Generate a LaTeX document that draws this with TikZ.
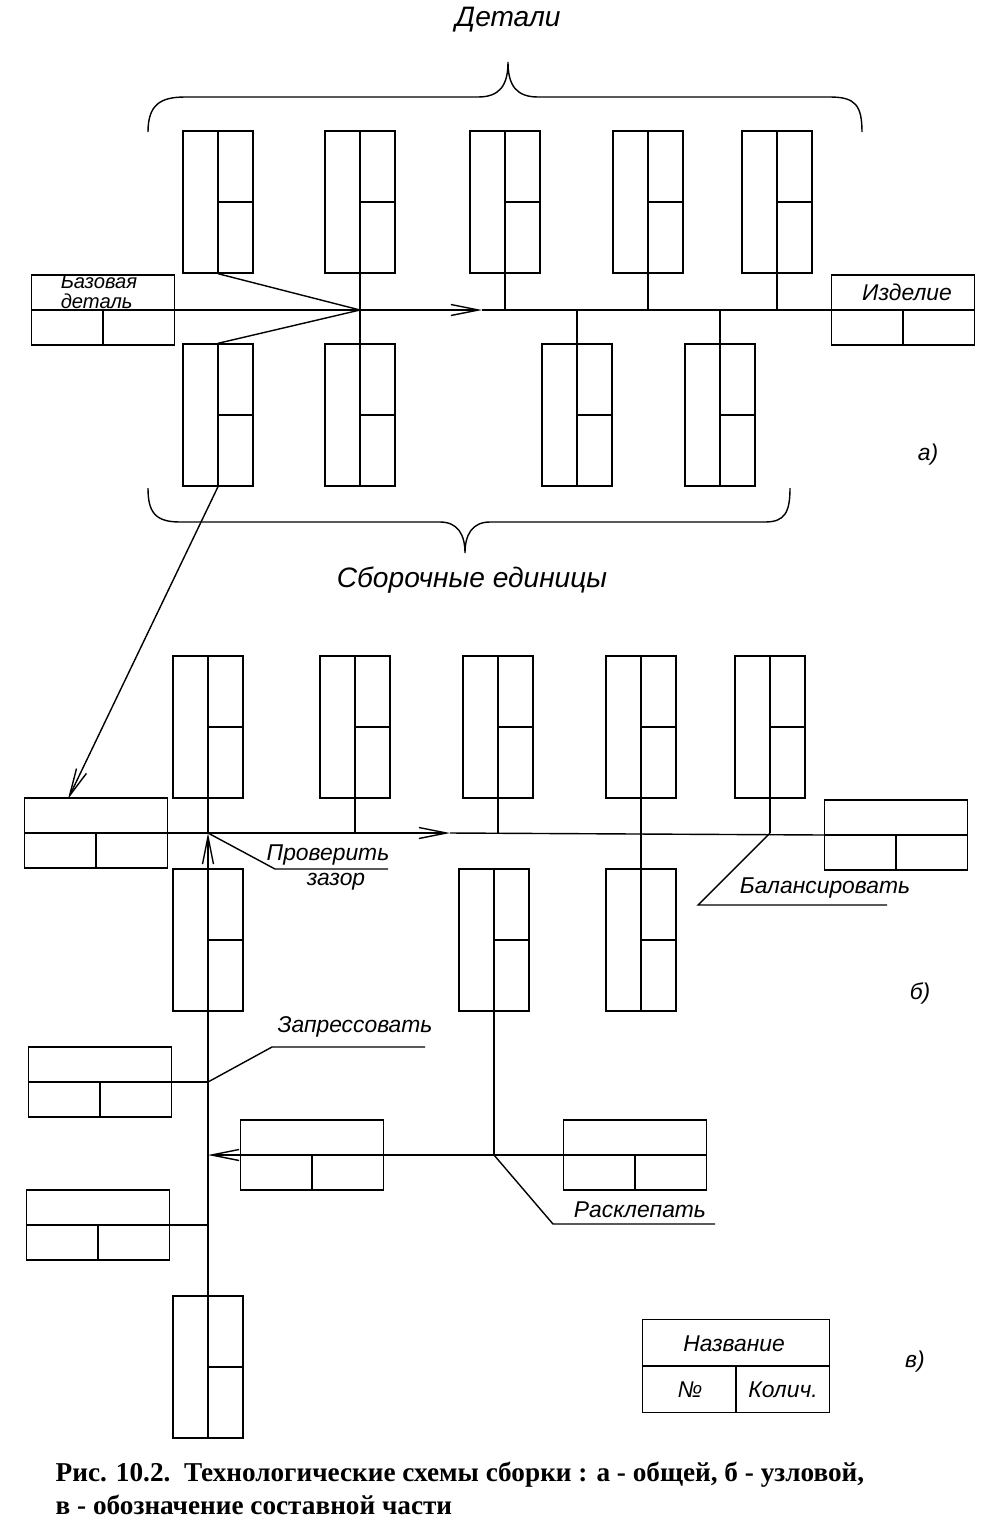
\documentclass[tikz,border=0pt]{standalone}
\usepackage{fontspec}
\setmainfont{Liberation Serif}
\newfontfamily\lblfont{Liberation Sans}
\usetikzlibrary{arrows.meta}

\tikzset{
  vbox/.style={draw, minimum width=1.4cm, minimum height=2.84cm, inner sep=0pt,
    path picture={
      \draw (path picture bounding box.north) -- (path picture bounding box.south);
      \draw (path picture bounding box.center) -- (path picture bounding box.east);}},
  hbox/.style={draw, minimum width=2.86cm, minimum height=1.4cm, inner sep=0pt,
    path picture={
      \draw (path picture bounding box.west) -- (path picture bounding box.east);
      \draw (path picture bounding box.center) -- (path picture bounding box.south);}},
  lbl/.style={font=\lblfont\itshape\fontsize{13}{13}\selectfont, inner sep=0pt},
  big/.style={font=\lblfont\itshape\fontsize{16}{16}\selectfont, inner sep=0pt},
  tip/.style={-{Straight Barb[length=5.5mm, width=2.2mm]}}
}

\begin{document}
\begin{tikzpicture}[x=0.02cm, y=-0.02cm, line width=0.8pt]
\useasboundingbox (0,0) rectangle (990,1529);

% а) общая схема
\node[big] (det) at (508,20) {Детали};
\draw (148,132) .. controls (148,105) and (160,97) .. (185,97) -- (478,97)
  .. controls (500,97) and (508,85) .. (508,62)
  .. controls (508,85) and (516,97) .. (538,97) -- (830,97)
  .. controls (855,97) and (862,105) .. (862,132);
\node[vbox] (t1) at (218,202) {};
\node[vbox] (t2) at (360,202) {};
\node[vbox] (t3) at (505,202) {};
\node[vbox] (t4) at (648,202) {};
\node[vbox] (t5) at (777,202) {};
\node[vbox] (b1) at (218,415) {};
\node[vbox] (b2) at (360,415) {};
\node[vbox] (b3) at (577,415) {};
\node[vbox] (b4) at (720,415) {};
\node[hbox] (base) at (103,310) {};
\node[lbl, align=left, font=\lblfont\itshape\fontsize{11.5}{11.5}\selectfont] (baset) at (99,292) {Базовая\\деталь};
\node[hbox] (izd) at (903,310) {};
\node[lbl] (izdt) at (907,292) {Изделие};
\coordinate (hub) at (360,310);
\coordinate (arA) at (482,310);
\draw[tip] (base.east) -- (arA);
\draw (arA) -- (izd.west);
\draw (t1.south) -- (hub) -- (b1.north);
\draw (t2.south) -- (b2.north);
\draw (t3.south) -- (t3.south |- hub);
\draw (t4.south) -- (t4.south |- hub);
\draw (t5.south) -- (t5.south |- hub);
\draw (b3.north) -- (b3.north |- hub);
\draw (b4.north) -- (b4.north |- hub);
\draw (148,488) .. controls (148,512) and (155,522) .. (180,522) -- (440,522)
  .. controls (458,522) and (465,535) .. (465,553)
  .. controls (465,535) and (472,522) .. (490,522) -- (765,522)
  .. controls (785,522) and (790,512) .. (790,488);
\node[big] (sbe) at (472,580) {Сборочные единицы};
\node[lbl] (la) at (928,455) {а)};

% б) узловая схема
\node[vbox] (bt1) at (208,727) {};
\node[vbox] (bt2) at (355,727) {};
\node[vbox] (bt3) at (498,727) {};
\node[vbox] (bt4) at (641,727) {};
\node[vbox] (bt5) at (770,727) {};
\node[vbox] (bl1) at (208,940) {};
\node[vbox] (bl2) at (494,940) {};
\node[vbox] (bl3) at (641,940) {};
\node[hbox] (bbase) at (96,833) {};
\node[hbox] (bizd) at (896,835) {};
\coordinate (bhub) at (208,833);
\coordinate (arB) at (450,833);
\coordinate (bin) at (68,799);
\draw[tip] (b1.south) -- (bin);
\draw[tip] (bbase.east) -- (arB);
\draw (arB) -- (bizd.west);
\draw (bt1.south) -- (bhub);
\draw (bt2.south) -- (bt2.south |- bhub);
\draw (bt3.south) -- (bt3.south |- bhub);
\draw (bt4.south) -- (bl3.north);
\draw (bt5.south) -- (bt5.south |- bhub);
\coordinate (pz1) at (275,869);
\coordinate (pz2) at (388,869);
\draw (bhub) -- (pz1) -- (pz2);
\node[lbl] (pzt1) at (328,855) {Проверить};
\node[lbl] (pzt2) at (336,882) {зазор};
\coordinate (bl1c) at (698,905);
\coordinate (bl2c) at (887,905);
\draw (bt5.south |- bhub) -- (bl1c) -- (bl2c);
\node[lbl] (blt) at (825,888) {Балансировать};
\node[lbl] (lb) at (920,993) {б)};

% сборка узла
\node[hbox] (zap) at (100,1082) {};
\node[hbox] (mid) at (312,1155) {};
\node[hbox] (rkl) at (635,1155) {};
\node[hbox] (low) at (98,1225) {};
\node[vbox] (vb) at (208,1367) {};
\coordinate (sz) at (208,1082);
\coordinate (sm) at (208,1155);
\coordinate (sl) at (208,1225);
\coordinate (rj) at (494,1155);
\draw[tip] (vb.north) -- (bhub);
\draw (zap.east) -- (sz);
\draw (low.east) -- (sl);
\draw[tip] (rkl.west) -- (sm);
\draw (bl2.south) -- (rj);
\coordinate (zp1) at (272,1047);
\coordinate (zp2) at (425,1047);
\draw (sz) -- (zp1) -- (zp2);
\node[lbl] (zpt) at (355,1027) {Запрессовать};
\coordinate (rk1) at (553,1224);
\coordinate (rk2) at (715,1224);
\draw (rj) -- (rk1) -- (rk2);
\node[lbl] (rkt) at (640,1210) {Расклепать};

% в) обозначение
\node[hbox, minimum width=3.74cm, minimum height=1.86cm] (leg) at (736,1366) {};
\node[lbl] (legn) at (734,1344) {Название};
\node[lbl] (legno) at (690,1390) {№};
\node[lbl] (legk) at (783,1390) {Колич.};
\node[lbl] (lv) at (915,1362) {в)};

\node[anchor=west, inner sep=0pt, font=\bfseries\fontsize{15.5}{15.5}\selectfont] (cap1) at (55,1475)
  {Рис. 10.2.\ \ Технологические схемы сборки : а - общей, б - узловой,};
\node[anchor=west, inner sep=0pt, font=\bfseries\fontsize{15.5}{15.5}\selectfont] (cap2) at (55,1505)
  {в - обозначение составной части};
\end{tikzpicture}
\end{document}
